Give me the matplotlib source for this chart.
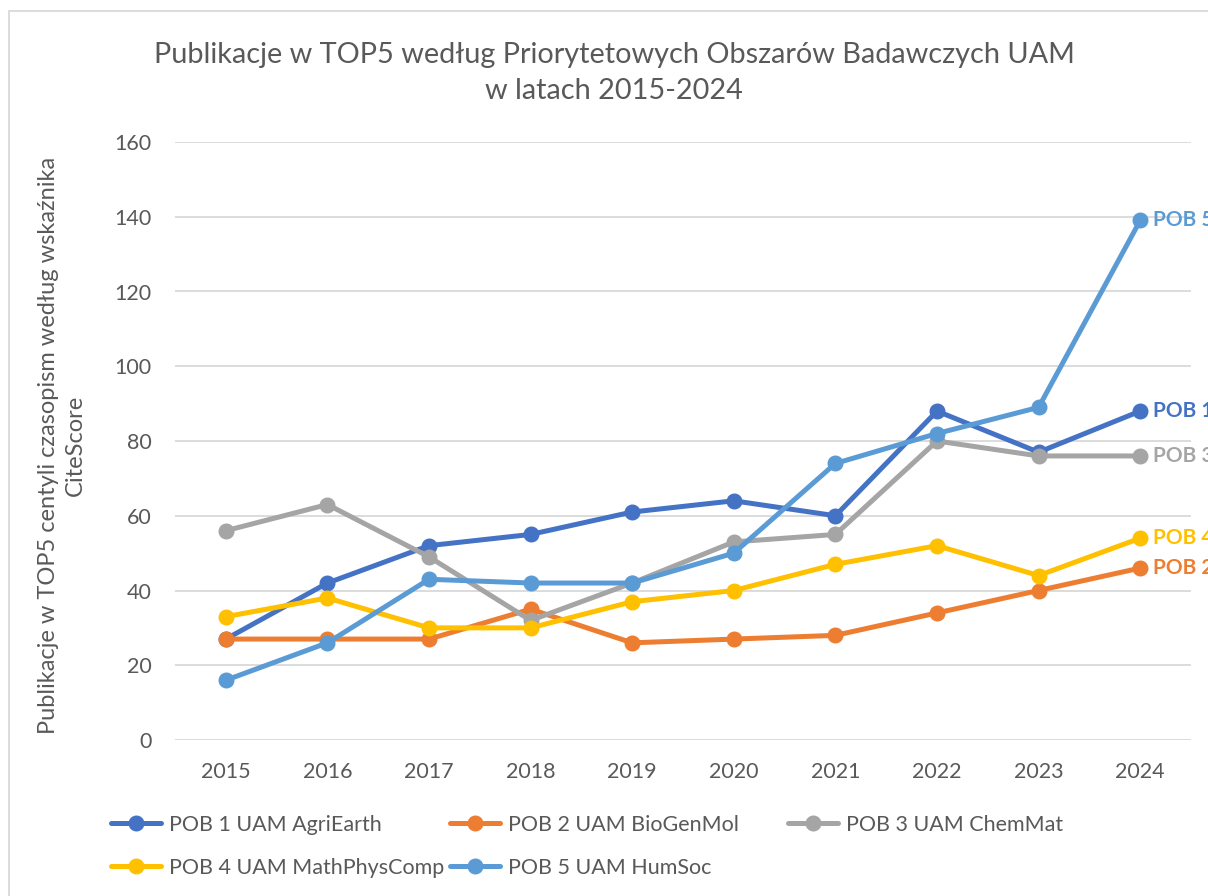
import matplotlib
matplotlib.use("Agg")
import matplotlib.pyplot as plt
from matplotlib.patches import Rectangle

years = ["2015", "2016", "2017", "2018", "2019", "2020", "2021", "2022", "2023", "2024"]
pob1 = [27, 42, 52, 55, 61, 64, 60, 88, 77, 88]
pob2 = [27, 27, 27, 35, 26, 27, 28, 34, 40, 46]
pob3 = [56, 63, 49, 32, 42, 53, 55, 80, 76, 76]
pob4 = [33, 38, 30, 30, 37, 40, 47, 52, 44, 54]
pob5 = [16, 26, 43, 42, 42, 50, 74, 82, 89, 139]
names = ["POB 1 UAM AgriEarth", "POB 2 UAM BioGenMol", "POB 3 UAM ChemMat",
         "POB 4 UAM MathPhysComp", "POB 5 UAM HumSoc"]
end_labels = ["POB 1", "POB 2", "POB 3", "POB 4", "POB 5"]
colors = ["#4472C4", "#ED7D31", "#A5A5A5", "#FFC000", "#5B9BD5"]
yticks = [0, 20, 40, 60, 80, 100, 120, 140, 160]
title = "Publikacje w TOP5 według Priorytetowych Obszarów Badawczych UAM\nw latach 2015-2024"
ylabel = "Publikacje w TOP5 centyli czasopism według wskaźnika\nCiteScore"

plt.rcParams['font.family'] = ['Lato', 'DejaVu Sans']
TXT = "#595959"

W, H = 1208, 896
fig = plt.figure(figsize=(W / 100, H / 100), dpi=100)
fig.patch.set_facecolor("white")
fig.add_artist(Rectangle((9 / W, 0 - 0.01), 1.05, (H - 11) / H + 0.01, transform=fig.transFigure,
                         fill=False, edgecolor="#D9D9D9", linewidth=1.3))

ax = fig.add_axes([175 / W, (H - 740) / H, (1191 - 175) / W, (740 - 142) / H])
series = [pob1, pob2, pob3, pob4, pob5]
x = list(range(len(years)))
lines = []
for s, c, n, lab in zip(series, colors, names, end_labels):
    ln, = ax.plot(x, s, color=c, linewidth=3.6, marker="o", markersize=10.5,
                  label=n, solid_capstyle="round", clip_on=False)
    lines.append(ln)
    ax.annotate(lab, xy=(x[-1], s[-1]), xytext=(9, 0), textcoords="offset points",
                va="center", ha="left", color=c, fontsize=15, fontweight="bold",
                annotation_clip=False)

ax.set_xlim(-0.5, len(years) - 0.5)
ax.set_ylim(0, 160)
ax.set_yticks(yticks)
ax.set_xticks(x)
ax.set_xticklabels(years)
ax.grid(axis="y", color="#D9D9D9", linewidth=1.3)
ax.set_axisbelow(True)
for sp in ax.spines.values():
    sp.set_visible(False)
ax.tick_params(length=0, colors=TXT, labelsize=15.5)
ax.tick_params(axis="y", pad=17)
ax.tick_params(axis="x", pad=16)

fig.text(614 / W, 1 - 73 / H, title, ha="center", va="center", fontsize=20.8, color=TXT,
         linespacing=1.45)
fig.text(62 / W, 1 - 445 / H, ylabel, ha="center", va="center", rotation=90,
         fontsize=17, color=TXT, linespacing=1.35)

positions = [(111, 825), (450, 825), (788, 825), (111, 868), (450, 868)]
for ln, (px, py) in zip(lines, positions):
    leg = fig.legend(handles=[ln], loc="center left", bbox_to_anchor=(px / W, 1 - py / H),
                     frameon=False, fontsize=15.5, handlelength=2.3, handletextpad=0.4,
                     borderpad=0, borderaxespad=0, numpoints=1)
    for t in leg.get_texts():
        t.set_color(TXT)

fig.savefig("out.png", dpi=100, facecolor="white")
